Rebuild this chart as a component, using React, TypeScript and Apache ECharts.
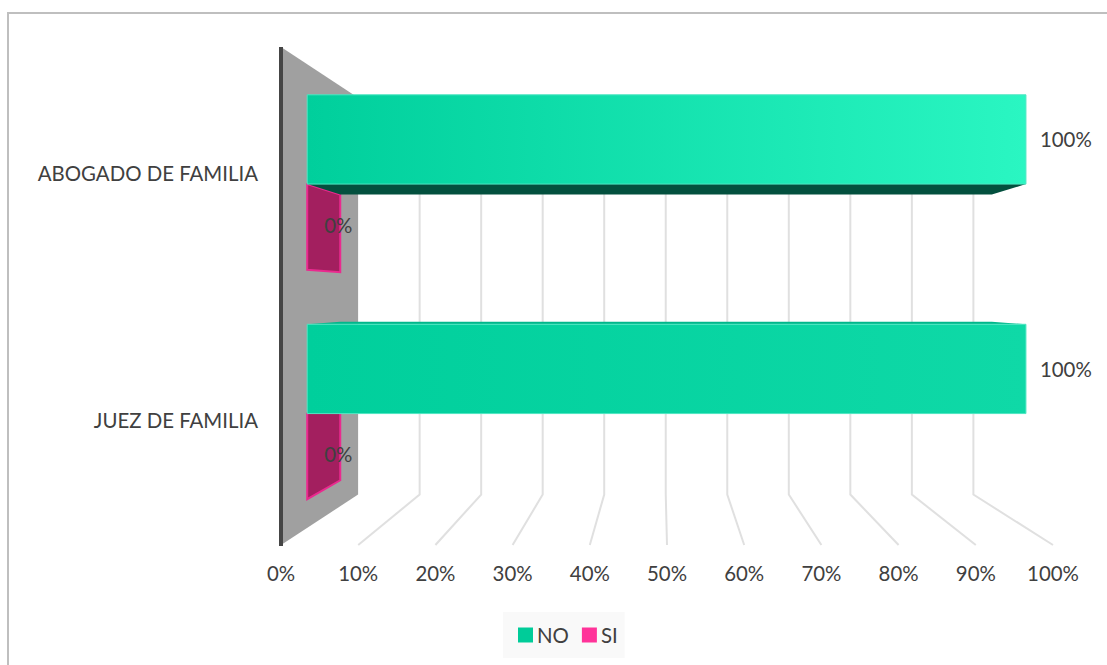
import React, { useEffect, useRef } from "react";
import * as echarts from "echarts";

const categories = ["ABOGADO DE FAMILIA", "JUEZ DE FAMILIA"];
const noValues = [100, 100];
const siValues = [0, 0];
const axisTicks = [0, 10, 20, 30, 40, 50, 60, 70, 80, 90, 100];

const FONT = "Lato, 'Open Sans', sans-serif";
const TEXT = "#404040";
const FONT_SIZE = 20.4;
const S_FRONT = 0.931;
const S_BACK = 0.844;
const S_WALL = 0.797;
const VANISH_X = 0.492;

function projector(params: any) {
  const sys = params.coordSys;
  const cx = sys.x + VANISH_X * sys.width;
  const cy = sys.y + sys.height / 2;
  return (p: number[], s: number) => [cx + s * (p[0] - cx), cy + s * (p[1] - cy)];
}

const renderScaffold = (params: any, api: any) => {
  const sys = params.coordSys;
  const pr = projector(params);
  const v = api.value(0);
  const top = sys.y - 3;
  const bottom = sys.y + sys.height + 2;
  const x = api.coord([v, 0])[0];
  const children: any[] = [];
  const pFront = [x, bottom];
  const pBack = pr([x, bottom], S_WALL);
  const pTop = pr([x, top], S_WALL);
  if (v === 0) {
    children.push({
      type: "polygon",
      shape: { points: [[x, top], pTop, pBack, pFront] },
      style: { fill: "#a0a0a0" },
    });
    children.push({
      type: "line",
      shape: { x1: x, y1: top, x2: x, y2: bottom + 1 },
      style: { stroke: "#454545", lineWidth: 4 },
    });
  } else {
    children.push({
      type: "polyline",
      shape: { points: [pTop, pBack, pFront] },
      style: { stroke: "#e0e0e0", lineWidth: 2, fill: "none" },
    });
  }
  return { type: "group", children };
};

const renderNo = (params: any, api: any) => {
  const pr = projector(params);
  const v = api.value(0);
  const cat = api.value(1);
  const zero = api.coord([0, cat]);
  const end = api.coord([v, cat]);
  const y0 = zero[1] - 93.4;
  const y1 = zero[1] + 2.5;
  const fl = pr([zero[0], y0], S_FRONT);
  const fr = pr([end[0], y1], S_FRONT);
  const tl = pr([zero[0], y0], S_BACK);
  const tr = pr([end[0], y0], S_BACK);
  const bl = pr([zero[0], y1], S_BACK);
  const br = pr([end[0], y1], S_BACK);
  const rightColor = cat === 0 ? "#2af6c2" : "#0fd9a7";
  const children: any[] = [];
  if (tl[1] < fl[1]) {
    children.push({
      type: "polygon",
      shape: { points: [[fl[0], fl[1]], tl, tr, [fr[0], fl[1]]] },
      style: { fill: "#00b78b" },
    });
  }
  if (bl[1] > fr[1]) {
    children.push({
      type: "polygon",
      shape: { points: [[fl[0], fr[1]], bl, br, [fr[0], fr[1]]] },
      style: { fill: "#03503e" },
    });
  }
  children.push({
    type: "rect",
    shape: { x: fl[0], y: fl[1], width: fr[0] - fl[0], height: fr[1] - fl[1] },
    style: {
      fill: new echarts.graphic.LinearGradient(0, 0, 1, 0, [
        { offset: 0, color: "#00cf9c" },
        { offset: 1, color: rightColor },
      ]),
      stroke: "#4fe6c2",
      lineWidth: 1,
    },
  });
  children.push({
    type: "text",
    style: {
      x: fr[0] + 14,
      y: (fl[1] + fr[1]) / 2,
      text: `${v}%`,
      fill: TEXT,
      font: `${FONT_SIZE}px ${FONT}`,
      align: "left",
      verticalAlign: "middle",
    },
  });
  return { type: "group", children };
};

const renderSi = (params: any, api: any) => {
  const pr = projector(params);
  const v = api.value(0);
  const cat = api.value(1);
  const end = api.coord([v, cat]);
  const y0 = end[1] + 2.5;
  const y1 = end[1] + 94.5;
  const a = pr([end[0], y0], S_FRONT);
  const b = pr([end[0], y0], S_BACK);
  const c = pr([end[0], y1], S_BACK);
  const d = pr([end[0], y1], S_FRONT);
  return {
    type: "group",
    children: [
      {
        type: "polygon",
        shape: { points: [a, b, c, d] },
        style: { fill: "#a31f5f", stroke: "#ea2a8f", lineWidth: 2 },
      },
      {
        type: "text",
        style: {
          x: a[0] + 17,
          y: (a[1] + d[1]) / 2 - 2,
          text: `${v}%`,
          fill: TEXT,
          font: `${FONT_SIZE}px ${FONT}`,
          align: "left",
          verticalAlign: "middle",
        },
      },
    ],
  };
};

export default function App() {
  const ref = useRef<HTMLDivElement>(null);
  useEffect(() => {
    const chart = echarts.init(ref.current!, null, { renderer: "svg" });
    chart.setOption({
      animation: false,
      backgroundColor: "#ffffff",
      grid: { left: 281, width: 772, top: 50, height: 493 },
      xAxis: {
        type: "value",
        min: 0,
        max: 100,
        interval: 10,
        axisLine: { show: false },
        axisTick: { show: false },
        splitLine: { show: false },
        axisLabel: {
          formatter: "{value}%",
          color: TEXT,
          fontFamily: FONT,
          fontSize: FONT_SIZE,
          margin: 20,
        },
      },
      yAxis: {
        type: "category",
        inverse: true,
        data: categories,
        axisLine: { show: false },
        axisTick: { show: false },
        splitLine: { show: false },
        axisLabel: { color: TEXT, fontFamily: FONT, fontSize: FONT_SIZE, margin: 23 },
      },
      legend: {
        data: ["NO", "SI"],
        left: 503,
        top: 612,
        padding: [13, 7, 13, 15],
        itemWidth: 15,
        itemHeight: 15,
        itemGap: 13,
        icon: "rect",
        backgroundColor: "#f9f9f9",
        textStyle: { color: TEXT, fontFamily: FONT, fontSize: FONT_SIZE, padding: [0, 0, 0, -1] },
      },
      graphic: [
        {
          type: "line",
          shape: { x1: 7, y1: 13, x2: 1107, y2: 13 },
          style: { stroke: "#bfbfbf", lineWidth: 2 },
        },
        {
          type: "line",
          shape: { x1: 8, y1: 12, x2: 8, y2: 665 },
          style: { stroke: "#bfbfbf", lineWidth: 2 },
        },
      ],
      series: [
        {
          name: "scaffold",
          type: "custom",
          silent: true,
          renderItem: renderScaffold,
          encode: { x: 0, y: 1 },
          data: axisTicks.map((t) => [t, categories[0]]),
        },
        {
          name: "SI",
          type: "custom",
          silent: true,
          renderItem: renderSi,
          encode: { x: 0, y: 1 },
          itemStyle: { color: "#ff3399" },
          data: siValues.map((v, i) => [v, categories[i]]),
        },
        {
          name: "NO",
          type: "custom",
          silent: true,
          renderItem: renderNo,
          encode: { x: 0, y: 1 },
          itemStyle: { color: "#00cc99" },
          data: noValues.map((v, i) => [v, categories[i]]),
        },
      ],
    });
    return () => chart.dispose();
  }, []);
  return (
    <div
      ref={ref}
      style={{ position: "absolute", left: 0, top: 0, width: 1107, height: 665 }}
    />
  );
}
